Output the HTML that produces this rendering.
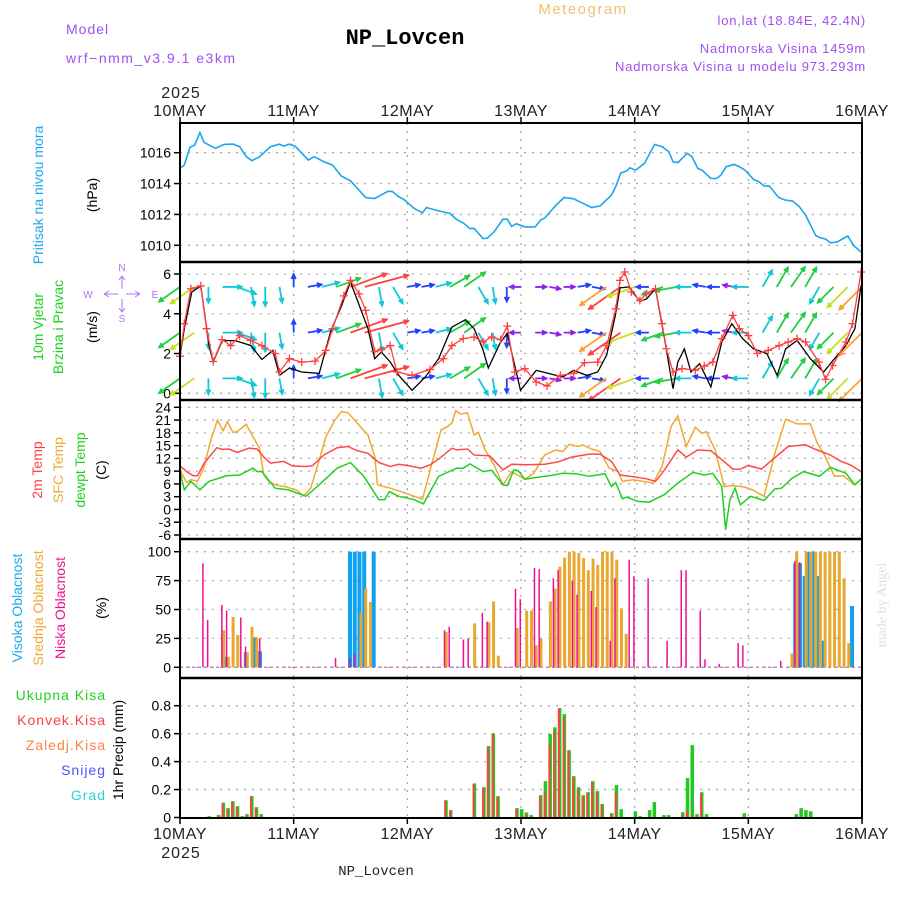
<!DOCTYPE html>
<html><head><meta charset="utf-8"><style>
html,body{margin:0;padding:0;background:#fff;}
svg{display:block;font-family:"Liberation Sans",sans-serif;}
</style></head><body>
<svg id="chart" width="900" height="900" viewBox="0 0 900 900" xmlns="http://www.w3.org/2000/svg">
<rect width="900" height="900" fill="#fff"/>
<text x="66" y="34" fill="#a050f0" font-size="14" letter-spacing="1">Model</text>
<text x="66" y="63" fill="#a050f0" font-size="14" letter-spacing="1.5">wrf−nmm_v3.9.1 e3km</text>
<text x="405" y="44" text-anchor="middle" fill="#000" font-size="22" font-weight="bold" font-family="Liberation Mono, monospace">NP_Lovcen</text>
<text x="583" y="14" text-anchor="middle" fill="#f0c070" font-size="15" letter-spacing="1.5">Meteogram</text>
<text x="866" y="25" text-anchor="end" fill="#a050f0" font-size="13" letter-spacing="0.8">lon,lat (18.84E, 42.4N)</text>
<text x="866" y="53" text-anchor="end" fill="#a050f0" font-size="13" letter-spacing="0.8">Nadmorska Visina 1459m</text>
<text x="866" y="71" text-anchor="end" fill="#a050f0" font-size="13" letter-spacing="0.8">Nadmorska Visina u modelu 973.293m</text>
<text x="181" y="98" text-anchor="middle" fill="#222" font-size="16" letter-spacing="1">2025</text>
<text x="181" y="858" text-anchor="middle" fill="#222" font-size="16" letter-spacing="1">2025</text>
<text x="376" y="875" text-anchor="middle" fill="#222" font-size="14" font-family="Liberation Mono, monospace">NP_Lovcen</text>
<text transform="translate(886,605) rotate(-90)" text-anchor="middle" fill="#d8e4d8" font-size="14" font-family="Liberation Serif, serif">made by Angel</text>
<text transform="translate(43,195) rotate(-90)" text-anchor="middle" fill="#20a8f0" font-size="14">Pritisak na nivou mora</text>
<text transform="translate(97,195) rotate(-90)" text-anchor="middle" fill="#000" font-size="14">(hPa)</text>
<text transform="translate(43,327) rotate(-90)" text-anchor="middle" fill="#20d020" font-size="14">10m Vjetar</text>
<text transform="translate(63,327) rotate(-90)" text-anchor="middle" fill="#20d020" font-size="14">Brzina i Pravac</text>
<text transform="translate(97,327) rotate(-90)" text-anchor="middle" fill="#000" font-size="14">(m/s)</text>
<g fill="#b070f0" font-size="10">
<text x="122" y="271" text-anchor="middle">N</text>
<text x="122" y="322" text-anchor="middle">S</text>
<text x="88" y="298" text-anchor="middle">W</text>
<text x="155" y="298" text-anchor="middle">E</text>
<g stroke="#b070f0" stroke-width="1" fill="none">
<path d="M104,294H118M126,294H140M104,294l5,-3M104,294l5,3M140,294l-5,-3M140,294l-5,3"/>
<path d="M122,276V289M122,299V312M122,276l-3,4M122,276l3,4M122,312l-3,-4M122,312l3,-4"/>
</g>
</g>
<text transform="translate(42,470) rotate(-90)" text-anchor="middle" fill="#ff4040" font-size="14">2m Temp</text>
<text transform="translate(63,470) rotate(-90)" text-anchor="middle" fill="#f0a830" font-size="14">SFC Temp</text>
<text transform="translate(85,470) rotate(-90)" text-anchor="middle" fill="#20d020" font-size="14">dewpt Temp</text>
<text transform="translate(106,470) rotate(-90)" text-anchor="middle" fill="#000" font-size="14">(C)</text>
<text transform="translate(22,608) rotate(-90)" text-anchor="middle" fill="#20a8f0" font-size="14">Visoka Oblacnost</text>
<text transform="translate(43,608) rotate(-90)" text-anchor="middle" fill="#f0a830" font-size="14">Srednja Oblacnost</text>
<text transform="translate(65,608) rotate(-90)" text-anchor="middle" fill="#f01090" font-size="14">Niska Oblacnost</text>
<text transform="translate(106,608) rotate(-90)" text-anchor="middle" fill="#000" font-size="14">(%)</text>
<g font-size="14" text-anchor="end" letter-spacing="1">
<text x="106" y="700" fill="#20d020">Ukupna Kisa</text>
<text x="106" y="725" fill="#ff4040">Konvek.Kisa</text>
<text x="106" y="750" fill="#ff8040">Zaledj.Kisa</text>
<text x="106" y="775" fill="#5050ff">Snijeg</text>
<text x="106" y="800" fill="#30d0d0">Grad</text>
</g>
<text transform="translate(123,750) rotate(-90)" text-anchor="middle" fill="#000" font-size="14">1hr Precip (mm)</text>
<g id="plot"></g>
</svg>
<script>
const dayLabels = ["10MAY","11MAY","12MAY","13MAY","14MAY","15MAY","16MAY"];
const pressureTicks = [1010,1012,1014,1016];
const windTicks = [0,2,4,6];
const tempTicks = [-6,-3,0,3,6,9,12,15,18,21,24];
const cloudTicks = [0,25,50,75,100];
const precipTicks = [0,0.2,0.4,0.6,0.8];
const precipTickLabels = ["0","0.2","0.4","0.6","0.8"];

const pHours = [0,0.9,2.1,3.1,4.2,5.1,7.5,9.3,11.2,12.6,14.0,15.2,16.8,19.1,21.0,21.9,23.1,24.3,27.1,28.3,30.4,32.2,34.1,36.0,39.2,41.1,43.9,44.8,46.2,47.2,49.5,51.2,52.0,54.6,57.0,58.4,59.8,61.2,62.1,64.0,64.9,66.3,68.2,69.1,70.0,71.0,72.8,75.0,76.1,77.0,79.4,81.1,83.1,86.9,88.7,91.1,92.0,93.1,94.3,95.0,96.2,98.1,99.0,100.2,101.8,103.2,104.1,105.1,107.1,108.1,109.3,110.2,112.1,113.3,114.2,115.3,117.0,118.1,119.3,121.1,122.3,123.3,124.4,126.4,127.9,129.3,130.7,132.1,134.2,135.1,136.3,137.3,138.7,141.0,142.2,143.8];
const pressure = [1014.98,1015.2,1016.35,1016.5,1017.3,1016.67,1016.28,1016.54,1016.56,1016.39,1015.74,1015.48,1015.74,1016.39,1016.56,1016.43,1016.56,1016.43,1015.52,1015.74,1015.41,1015.2,1014.48,1014.18,1013.1,1013.03,1013.5,1013.49,1013.14,1012.99,1012.38,1012.1,1012.45,1012.23,1012.06,1011.67,1011.45,1011.08,1011.1,1010.43,1010.47,1010.87,1011.69,1011.69,1011.23,1011.4,1011.19,1011.19,1011.62,1011.77,1012.6,1013.1,1013.01,1012.45,1012.55,1013.25,1013.79,1014.7,1014.81,1015.02,1014.87,1015.31,1015.85,1016.54,1016.39,1016.07,1015.41,1015.35,1015.96,1015.74,1014.98,1014.87,1014.33,1014.33,1014.55,1015.09,1015.24,1015.09,1014.87,1014.27,1014.11,1013.85,1013.85,1013.1,1012.92,1012.88,1012.53,1011.95,1010.65,1010.5,1010.41,1010.17,1010.21,1010.6,1010.0,1009.56];

const gustHours = [0,0.9,2.3,4.4,5.6,7.0,8.9,10.7,12.6,14.9,17.3,20.1,21.0,23.1,25.7,28.5,30.8,32.2,34.6,36.0,37.8,39.2,41.1,42.5,44.4,45.8,49.0,52.8,55.6,57.4,59.8,62.1,64.0,65.8,67.7,69.1,70.7,72.8,75.2,77.5,80.3,83.1,85.4,88.2,90.1,92.0,92.9,93.9,95.3,97.1,98.5,100.4,101.8,102.7,104.1,106.0,108.8,110.7,112.5,114.4,116.7,118.1,120.0,121.9,124.2,126.5,128.4,130.3,132.1,134.9,136.3,137.8,140.6,142.0,143.8];
const gust = [1.86,3.5,5.26,5.4,3.25,1.6,2.7,2.4,2.9,2.66,2.4,2.0,1.07,1.74,1.57,1.62,2.16,3.25,4.9,5.68,5.0,4.17,2.1,2.2,2.4,1.07,0.9,1.2,1.74,2.4,2.75,2.83,2.58,2.83,2.7,3.38,1.07,1.24,0.57,0.37,0.9,1.0,1.54,1.57,2.4,4.25,5.68,6.1,5.1,4.67,5.0,5.26,3.5,2.24,1.07,1.24,1.16,1.37,1.57,2.75,3.92,3.25,2.9,2.0,2.16,2.4,2.58,2.75,2.58,1.57,0.7,1.4,2.58,3.5,6.1];
const speedHours = [0,0.9,2.5,4.4,6.1,7.0,8.9,11.7,15.0,17.3,19.6,21.0,23.1,25.7,29.4,31.8,34.1,36.0,39.7,41.1,42.5,44.4,46.2,49.0,51.8,54.6,57.4,60.3,62.1,63.9,65.1,67.7,69.1,71.9,75.2,78.0,80.8,83.1,85.9,88.2,90.1,92.0,92.9,94.8,97.1,98.5,100.4,102.3,104.1,105.1,106.5,107.9,109.7,112.1,114.4,116.5,118.8,121.1,123.9,126.1,127.9,130.3,133.1,135.9,138.2,140.6,142.5,143.8];
const speed = [1.86,3.25,5.1,5.4,2.43,1.57,2.65,2.65,2.4,1.7,2.16,0.9,1.27,1.07,1.0,3.1,4.4,5.6,3.25,1.74,2.08,1.57,0.9,0.15,0.82,1.74,3.33,3.7,3.25,2.25,1.27,2.58,3.0,0.15,1.15,0.99,0.82,1.15,0.9,1.07,1.93,4.0,5.3,5.35,4.62,4.75,5.26,2.75,0.23,1.57,2.24,1.07,1.49,0.32,2.58,3.5,2.75,2.24,2.0,0.9,2.24,2.66,1.74,1.07,1.74,2.4,3.25,5.43];

const arrowHours = [0,3,6,9,12,15,18,21,24,27,30,33,36,39,42,45,48,51,54,57,60,63,66,69,72,75,78,81,84,87,90,93,96,99,102,105,108,111,114,117,120,123,126,129,132,135,138,141,144];
const windDir = [215,215,270,0,340,280,270,280,90,10,15,20,20,15,280,300,10,10,15,30,35,300,280,270,180,0,350,0,10,350,215,215,200,180,200,190,180,170,180,170,180,60,60,55,60,240,225,225,225];
const windSpd = [3,3.5,1.5,2,2.2,2,2,1.5,1,1.2,1.8,3,5,6,2,2,1,1,1.5,2.5,3,2,1.6,1.3,0.8,0.8,0.8,0.8,1,1,4,5,3.5,1,2.5,2.5,1.5,1,1,0.8,1.5,2,2.5,2.8,2.5,2,2.5,3.5,4];
const arrowRows = [5.35,3.05,0.75];

const t2Hours = [0,1.4,2.8,3.7,5.1,7.8,8.9,10.3,12.1,14.5,16.3,17.7,19.1,21.9,23.8,26.6,28.0,30.4,33.2,35.5,37.4,39.7,42.0,44.4,46.2,48.6,50.9,52.8,54.6,57.4,58.4,60.7,62.1,65.4,68.2,70.0,73.3,77.0,79.9,82.7,86.4,88.7,91.1,92.9,95.7,98.5,100.4,102.3,105.1,106.9,109.3,112.1,114.4,116.7,118.1,120.0,122.8,125.1,128.4,132.1,134.0,137.3,139.6,141.5,143.8];
const t2 = [10.25,8.9,7.9,7.9,10.9,14.5,14.1,14.2,13.4,14.4,14.2,12.3,10.9,11.3,10.2,10.1,10.3,12.8,14.5,14.8,13.8,13.2,11.0,10.1,10.6,10.2,9.7,10.5,11.8,14.4,14.0,14.2,12.8,12.6,9.3,10.6,10.5,10.6,11.2,12.3,13.0,13.0,11.3,8.1,7.7,7.2,6.6,9.3,14.0,12.3,14.0,13.8,11.7,9.5,9.4,10.3,9.5,11.7,14.8,15.2,14.2,12.8,11.3,10.5,8.9];
const sfcHours = [0,1.4,2.3,3.7,5.1,6.5,7.9,9.1,10.0,11.2,12.1,14.0,15.4,16.8,17.7,18.7,20.1,22.4,24.7,26.1,27.6,29.0,30.8,32.7,34.1,35.5,37.4,39.7,41.1,41.7,44.4,47.2,51.2,53.2,55.1,56.5,57.4,58.2,59.3,60.7,62.1,63.0,64.4,66.3,68.2,70.0,72.8,74.7,77.0,79.4,80.8,82.2,84.1,85.0,86.9,88.7,90.6,92.5,93.4,95.7,99.9,101.8,103.7,105.1,106.9,108.8,110.2,111.1,113.0,114.9,116.7,119.1,120.9,123.3,125.6,127.9,130.3,133.1,134.5,135.9,138.2,140.0,142.5,143.8];
const sfc = [9.3,6.3,7.0,6.6,10.1,16.3,21.0,18.5,20.6,18.1,18.3,20.0,17.1,14.4,8.1,6.6,5.8,5.3,4.5,3.2,5.0,10.1,17.1,21.0,23.0,22.7,20.3,17.5,12.4,5.8,5.0,4.0,2.4,10.9,18.7,19.5,20.3,23.2,22.4,22.7,17.5,18.1,14.0,10.5,5.8,8.9,7.1,8.5,12.8,14.0,13.6,15.3,14.8,15.2,14.2,13.6,9.7,8.9,6.6,7.0,6.2,10.1,19.5,22.0,14.8,19.3,17.9,18.3,14.0,5.4,5.6,5.3,4.6,3.1,13.2,21.2,20.1,20.1,15.7,13.2,7.8,7.9,5.8,7.1];
const dewHours = [0,0.9,2.3,4.2,6.1,9.8,12.6,15.4,16.3,17.3,20.1,22.9,26.6,29.4,33.2,36.0,38.8,42.0,43.2,44.2,46.2,49.5,51.4,54.6,58.4,59.8,61.2,64.0,65.8,68.2,69.1,70.5,71.4,72.8,75.2,78.9,80.8,83.6,86.4,89.7,91.1,92.0,93.4,94.3,96.7,99.0,102.3,105.1,108.3,110.7,112.5,114.4,115.2,116.1,117.2,118.3,120.5,123.3,125.6,127.0,129.3,131.7,135.0,137.3,140.6,142.5,143.8];
const dew = [8.9,4.6,6.6,4.6,6.6,7.9,8.1,9.7,8.9,8.9,5.0,4.6,3.1,5.8,9.7,11.0,7.8,2.3,2.3,4.2,3.1,2.3,1.3,7.8,9.7,9.7,10.7,8.9,9.2,5.8,5.6,9.3,9.1,7.1,7.5,8.1,8.5,8.4,7.8,8.4,5.4,6.3,2.5,2.9,1.9,1.7,3.5,6.2,8.7,8.1,8.5,5.4,-4.75,2.3,5.0,1.1,3.1,2.1,4.8,5.0,7.4,8.9,7.8,9.9,8.5,5.8,7.1];

const lowHours = [5,6,9,10,13,14,17,33,36,37,56,57,60,61,64,65,71,72,75,76,79,80,83,84,87,88,91,92,95,96,99,103,106,107,110,111,114,118,119,127,130,131];
const lowCloud = [90,41,54,49,43,18,25,8,8,11.5,32,35,24,25,47,39.5,68,59,86,85,77,84,75,63,66,52,23,77,93,79,77,23,84,84,49,7,3,21,19,5.5,92,91];
const midHours = [9,10,11,12,14,15,16,38,39,40,56,62,65,66,67,71,73,74,75,76,78,79,80,81,82,83,84,85,86,87,88,89,90,91,92,93,94,129,130,132,133,134,135,136,137,138,139,140,141];
const midCloud = [32,9,43.5,28,13,35,26,47,68,56.5,30.5,38,39,57,10,34,49,49,19,24.5,57,68,87,95,100,100,99,94.5,84,94,88.5,100,100,100,93,51,29,12,100,100,100,100,100,100,100,100,100,77,21];
const highHours = [10,14,16,17,36,37,38,39,41,130,131,132,133,134,135,136,142];
const highCloud = [9,13,26,14,100,100,100,100,100,90,90,79,100,100,79,23,53];

const precipHours = [6,8,9,10,11,12,13,14,15,16,17,56,57,62,64,65,66,67,71,72,73,74,76,77,78,79,80,81,82,83,84,85,86,87,88,89,91,92,93,96,97,99,100,102,103,106,107,108,109,110,111,119,130,131,132,133];
const precipTotal = [0.01,0.017,0.107,0.067,0.117,0.081,0.01,0.024,0.153,0.074,0.024,0.124,0.053,0.244,0.217,0.511,0.602,0.153,0.067,0.06,0.036,0.017,0.16,0.26,0.597,0.645,0.783,0.74,0.482,0.296,0.217,0.16,0.181,0.26,0.189,0.096,0.031,0.232,0.06,0.045,0.01,0.053,0.11,0.017,0.017,0.038,0.282,0.518,0.024,0.181,0.024,0.031,0.024,0.067,0.053,0.045];
const precipConv = [0,0.017,0.1,0.06,0.11,0.075,0,0.02,0.153,0.07,0,0.12,0.05,0.24,0.21,0.5,0.6,0.15,0.06,0,0.03,0,0.15,0.18,0.52,0.62,0.78,0.72,0.48,0.29,0.2,0.15,0.17,0.25,0.18,0.096,0.02,0.18,0,0,0,0,0,0,0,0.02,0.05,0.02,0,0.17,0,0,0,0,0,0];

const X0 = 180, X1 = 862, NS = "http://www.w3.org/2000/svg";
const plot = document.getElementById('plot');
function xh(h){ return X0 + h*(X1-X0)/144; }
function lin(d0,d1,r0,r1){ return v => r0 + (v-d0)*(r1-r0)/(d1-d0); }
const panels = {
  pressure:{top:123,bot:262,y:lin(1016,1010,152.7,245.3)},
  wind:{top:262,bot:400,y:lin(6,0,274,393.3)},
  temp:{top:400,bot:539,y:lin(24,-6,407.3,535)},
  cloud:{top:539,bot:678,y:lin(100,0,551.7,667.3)},
  precip:{top:678,bot:818,y:lin(0.8,0,705.7,817.5)}
};
function mk(tag, attrs, parent){
  const e = document.createElementNS(NS, tag);
  for (const k in attrs) e.setAttribute(k, attrs[k]);
  (parent||plot).appendChild(e);
  return e;
}
function linePath(hs, vs, yf){
  return hs.map((h,i)=>(i?'L':'M')+xh(h).toFixed(1)+','+yf(vs[i]).toFixed(1)).join('');
}

function drawAxis(key, ticks, labels){
  const p = panels[key];
  const g = mk('g',{});
  
  
  ticks.forEach((t,i)=>{
    const y = p.y(t);
    const gl = mk('line',{x1:X0,x2:X1,y1:y,y2:y,stroke:'#aaa','stroke-width':1.3,'stroke-dasharray':'2,6'},g);
    
    
    mk('line',{x1:X0-6,x2:X0,y1:y,y2:y,stroke:'#000','stroke-width':1.5},g);
    const tx = mk('text',{x:X0-9,y:y+5,'text-anchor':'end','font-size':14,fill:'#000'},g);
    tx.textContent = labels ? labels[i] : String(t);
    
    
  });
  for (let d=1; d<6; d++){
    const x = xh(d*24);
    const vl = mk('line',{x1:x,x2:x,y1:p.top,y2:p.bot,stroke:'#aaa','stroke-width':1.3,'stroke-dasharray':'2,6'},g);
    
    
  }
}
drawAxis('pressure', pressureTicks);
drawAxis('wind', windTicks);
drawAxis('temp', tempTicks);
drawAxis('cloud', cloudTicks);
drawAxis('precip', precipTicks, precipTickLabels);

const pl = mk('path',{d:linePath(pHours,pressure,panels.pressure.y),fill:'none',stroke:'#1aa6f0','stroke-width':1.6});



function spdColor(s){
  if (s<0.9) return '#9020f0';
  if (s<1.4) return '#2040ff';
  if (s<2.4) return '#10c8d8';
  if (s<3.2) return '#20d040';
  if (s<3.8) return '#c8e020';
  if (s<4.8) return '#ffa030';
  return '#ff4040';
}
const wg = mk('g',{});


arrowRows.forEach(r=>{
  const y0 = panels.wind.y(r);
  arrowHours.forEach((h,i)=>{
    const a = windDir[i]*Math.PI/180, L = 6 + windSpd[i]*6.5;
    const x0 = xh(h);
    const x1 = x0 + Math.cos(a)*L, y1 = y0 - Math.sin(a)*L;
    const c = spdColor(windSpd[i]);
    const hl = 5, a1 = a+Math.PI-0.45, a2 = a+Math.PI+0.45;
    const ar = mk('path',{d:`M${x0},${y0}L${x1},${y1}M${x1+Math.cos(a1)*hl},${y1-Math.sin(a1)*hl}L${x1},${y1}L${x1+Math.cos(a2)*hl},${y1-Math.sin(a2)*hl}`,stroke:c,'stroke-width':1.8,fill:'none'},wg);
    
    
  });
});
const sl = mk('path',{d:linePath(speedHours,speed,panels.wind.y),fill:'none',stroke:'#000','stroke-width':1.3});


const gl2 = mk('path',{d:linePath(gustHours,gust,panels.wind.y),fill:'none',stroke:'#ff4040','stroke-width':1.3});


gustHours.forEach((h,i)=>{
  const x = xh(h), y = panels.wind.y(gust[i]);
  const m = mk('path',{d:`M${x-4},${y}H${x+4}M${x},${y-4}V${y+4}`,stroke:'#ff4040','stroke-width':1.3});
  
  
});

[[sfcHours,sfc,'#f0a830','sfc-temp-line'],[t2Hours,t2,'#ff4848','temp-2m-line'],[dewHours,dew,'#20d020','dewpoint-line']].forEach(s=>{
  const e = mk('path',{d:linePath(s[0],s[1],panels.temp.y),fill:'none',stroke:s[2],'stroke-width':1.5});
  
  
});

const cy = panels.cloud.y, c0 = cy(0);
const zl = mk('line',{x1:X0,x2:X1,y1:c0,y2:c0,stroke:'#d080c0','stroke-width':1.5,'stroke-dasharray':'3,3'});


highHours.forEach((h,i)=>{
  const b = mk('rect',{x:xh(h)-2.5,y:cy(highCloud[i]),width:4,height:c0-cy(highCloud[i]),fill:'#10a0f0'});
  
  
});
midHours.forEach((h,i)=>{
  const b = mk('rect',{x:xh(h)-0.5,y:cy(midCloud[i]),width:3,height:c0-cy(midCloud[i]),fill:'#e8a830'});
  
  
});
lowHours.forEach((h,i)=>{
  const b = mk('rect',{x:xh(h)-1.5,y:cy(lowCloud[i]),width:1.5,height:c0-cy(lowCloud[i]),fill:'#f01090'});
  
  
});

const py = panels.precip.y, p0 = py(0);
precipHours.forEach((h,i)=>{
  const b = mk('rect',{x:xh(h)-1,y:py(precipTotal[i]),width:3.5,height:p0-py(precipTotal[i]),fill:'#20c820'});
  
  
  if (precipConv[i]>0){
    const r = mk('rect',{x:xh(h)-1,y:py(precipConv[i]),width:2,height:p0-py(precipConv[i]),fill:'#ff4040'});
    
    
  }
});

const fr = mk('g',{});


mk('rect',{x:X0,y:123,width:X1-X0,height:818-123,fill:'none',stroke:'#000','stroke-width':2},fr);
[262,400,539,678].forEach(y=>mk('line',{x1:X0,x2:X1,y1:y,y2:y,stroke:'#000','stroke-width':2.5},fr));
dayLabels.forEach((d,i)=>{
  const x = xh(i*24);
  mk('line',{x1:x,x2:x,y1:117,y2:123,stroke:'#000','stroke-width':1.5},fr);
  mk('line',{x1:x,x2:x,y1:818,y2:824,stroke:'#000','stroke-width':1.5},fr);
  const t1 = mk('text',{x:x,y:116,'text-anchor':'middle','font-size':16,fill:'#222','letter-spacing':'0.5'});
  t1.textContent = d;
  
  
  const t2e = mk('text',{x:x,y:839,'text-anchor':'middle','font-size':16,fill:'#222','letter-spacing':'0.5'});
  t2e.textContent = d;
  
  
});
</script>
</body></html>
